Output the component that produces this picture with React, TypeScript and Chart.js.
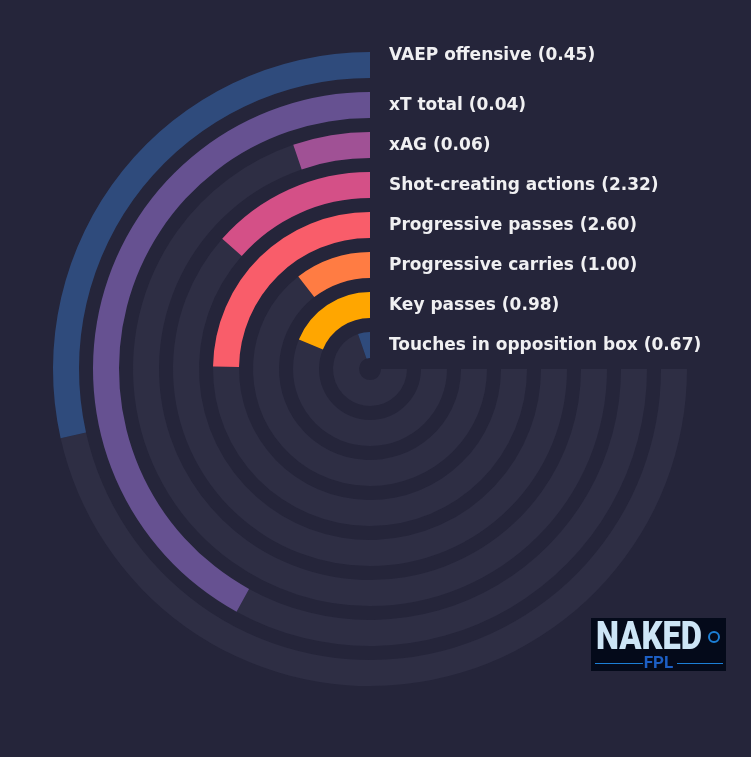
import { useEffect, useRef } from "react";
import { Chart, registerables } from "chart.js";

Chart.register(...registerables);

// metrics, from outer ring to inner ring
const metricNames = [
  "VAEP offensive",
  "xT total",
  "xAG",
  "Shot-creating actions",
  "Progressive passes",
  "Progressive carries",
  "Key passes",
  "Touches in opposition box",
];
const metricValues = [0.45, 0.04, 0.06, 2.32, 2.6, 1.0, 0.98, 0.67];
// percentile (share of the 270 degree track)
const percentiles = [38, 56, 7, 18, 33, 14, 25, 7];
const barColors = ["#2f4b7c", "#665191", "#a05195", "#d45087", "#f95d6a", "#ff7c43", "#ffa600", "#2f4b7c"];

const BG = "#25253a";
const TRACK = "#2e2e44";

const labelPlugin = {
  id: "ringLabels",
  afterDraw(chart: Chart) {
    const ctx = chart.ctx;
    ctx.save();
    ctx.font = "bold 17px 'DejaVu Sans'";
    ctx.fillStyle = "#f0f0f2";
    ctx.textAlign = "left";
    ctx.textBaseline = "middle";
    metricNames.forEach((name, i) => {
      const meta = chart.getDatasetMeta(i * 2);
      const arc: any = meta.data[1];
      if (!arc) return;
      const mid = (arc.innerRadius + arc.outerRadius) / 2;
      const y = arc.y - mid + 1 - (i === 0 ? 10 : 0);
      ctx.fillText(`${name} (${metricValues[i].toFixed(2)})`, arc.x + 19, y);
    });
    ctx.restore();
  },
};

export default function App() {
  const chartRef = useRef<HTMLCanvasElement>(null);
  const chartInstance = useRef<Chart | null>(null);

  useEffect(() => {
    if (!chartRef.current) return;
    const ctx = chartRef.current.getContext("2d");
    if (!ctx) return;

    if (chartInstance.current) {
      chartInstance.current.destroy();
    }

    const datasets: any[] = [];
    metricNames.forEach((name, i) => {
      datasets.push({
        label: name,
        data: [100 - percentiles[i], percentiles[i]],
        backgroundColor: [TRACK, barColors[i]],
        borderWidth: 0,
        weight: 26,
      });
      if (i < metricNames.length - 1) {
        // gap ring
        datasets.push({
          label: "",
          data: [1],
          backgroundColor: ["rgba(0,0,0,0)"],
          borderWidth: 0,
          weight: 14,
        });
      }
    });

    chartInstance.current = new Chart(ctx, {
      type: "doughnut",
      data: {
        labels: ["rest", "value"],
        datasets,
      },
      options: {
        responsive: false,
        maintainAspectRatio: false,
        animation: false,
        events: [],
        rotation: 90,
        circumference: 270,
        cutout: 11,
        layout: {
          padding: { left: 53, top: 52, right: 64, bottom: 71 },
        },
        plugins: {
          legend: { display: false },
          tooltip: { enabled: false },
        },
      },
      plugins: [labelPlugin],
    });

    return () => {
      if (chartInstance.current) {
        chartInstance.current.destroy();
        chartInstance.current = null;
      }
    };
  }, []);

  return (
    <div style={{ position: "fixed", left: 0, top: 0, width: 751, height: 757, background: BG, overflow: "hidden" }}>
      <canvas ref={chartRef} width={751} height={757} style={{ position: "absolute", left: 0, top: 0 }} />
      <div
        style={{
          position: "absolute",
          left: 591,
          top: 618,
          width: 135,
          height: 53,
          background: "#040a1a",
          fontFamily: "Roboto, 'DejaVu Sans', sans-serif",
        }}
      >
        <div
          style={{
            position: "absolute",
            left: 5,
            top: -3,
            fontSize: 38,
            fontWeight: 900,
            color: "#cde5f6",
            letterSpacing: 0,
            lineHeight: "42px",
            transform: "scaleX(0.86)",
            transformOrigin: "left top",
          }}
        >
          NAKED
        </div>
        <div
          style={{
            position: "absolute",
            left: 117,
            top: 13,
            width: 8,
            height: 8,
            borderRadius: 6,
            border: "2px solid #1c7fd6",
          }}
        />
        <div style={{ position: "absolute", left: 4, top: 45, width: 48, height: 1, background: "#1c7fd6" }} />
        <div style={{ position: "absolute", left: 86, top: 45, width: 46, height: 1, background: "#1c7fd6" }} />
        <div
          style={{
            position: "absolute",
            left: 0,
            width: 135,
            top: 35,
            textAlign: "center",
            fontSize: 17,
            fontWeight: 700,
            color: "#1d5fc4",
            lineHeight: "18px",
          }}
        >
          FPL
        </div>
      </div>
    </div>
  );
}
